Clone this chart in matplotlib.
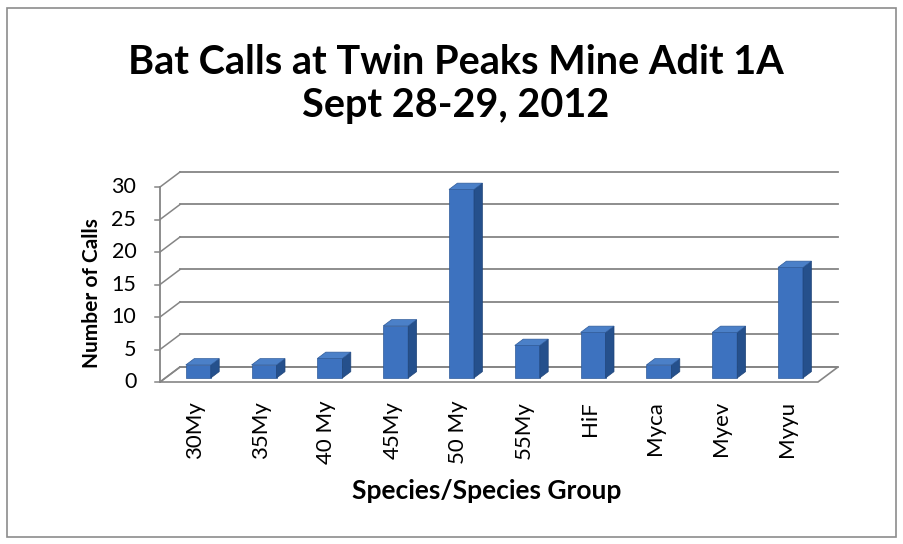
import matplotlib.pyplot as plt
from matplotlib.patches import Polygon, Rectangle

species = ["30My", "35My", "40 My", "45My", "50 My", "55My", "HiF", "Myca", "Myev", "Myyu"]
calls = [2, 2, 3, 8, 29, 5, 7, 2, 7, 17]
yticks = [0, 5, 10, 15, 20, 25, 30]

plt.rcParams['font.family'] = ['Lato', 'DejaVu Sans']

fig = plt.figure(figsize=(9.04, 5.44), dpi=100)
ax = fig.add_axes([160/904, 162/544, 678/904, 210/544])

# depth of the fake 3d box, in data units
dx, dy = 0.304, 2.31
ax.set_xlim(-0.5, 9.5 + dx)
ax.set_ylim(0, 30 + dy)
ax.axis('off')

grid = '#858585'
n = len(species)

# back wall grid + left wall diagonals + ticks
for v in yticks:
    ax.plot([-0.5 + dx, n - 0.5 + dx], [v + dy, v + dy], color=grid, lw=1.3, zorder=1, clip_on=False)
    ax.plot([-0.5, -0.5 + dx], [v, v + dy], color=grid, lw=1.1, zorder=1, clip_on=False)
    ax.plot([-0.58, -0.5], [v, v], color=grid, lw=1.1, zorder=1, clip_on=False)
    ax.text(-0.86, v, str(v), ha='right', va='center', fontsize=15.5, clip_on=False)
ax.plot([-0.5, -0.5], [0, 30], color=grid, lw=1.3, zorder=1, clip_on=False)

# floor
ax.add_patch(Polygon([(-0.5, 0), (n - 0.5, 0), (n - 0.5 + dx, dy), (-0.5 + dx, dy)],
                     closed=True, fc='white', ec=grid, lw=1.2, zorder=0.5, clip_on=False))

# bars
w = 0.38
f0 = 0.27   # where the bar's front face sits in the depth
bd = 0.42   # bar depth as fraction of box depth
xs = [i + f0 * dx for i in range(n)]
bars = ax.bar(xs, calls, width=w, bottom=f0 * dy, color='#3d72bf', edgecolor='#2d5a9a',
              lw=0.5, zorder=3, clip_on=False)
for b, v in zip(bars, calls):
    x0 = b.get_x()
    y0 = b.get_y()
    side = [(x0 + w, y0), (x0 + w + bd * dx, y0 + bd * dy),
            (x0 + w + bd * dx, y0 + v + bd * dy), (x0 + w, y0 + v)]
    top = [(x0, y0 + v), (x0 + w, y0 + v),
           (x0 + w + bd * dx, y0 + v + bd * dy), (x0 + bd * dx, y0 + v + bd * dy)]
    ax.add_patch(Polygon(side, closed=True, fc='#25508c', ec='#1f4478', lw=0.5, zorder=3, clip_on=False))
    ax.add_patch(Polygon(top, closed=True, fc='#4b80c8', ec='#2d5a9a', lw=0.5, zorder=3, clip_on=False))

# category labels
for i, s in enumerate(species):
    ax.text(i + 0.03, -2.9, s, rotation=90, ha='center', va='top', fontsize=16, clip_on=False)

fig.text(0.504, 1 - 62/544, "Bat Calls at Twin Peaks Mine Adit 1A", ha='center', va='center',
         fontsize=28.5, weight='bold')
fig.text(0.504, 1 - 106/544, "Sept 28-29, 2012", ha='center', va='center', fontsize=28.5, weight='bold')
fig.text(92/904, 1 - 293/544, "Number of Calls", rotation=90, ha='center', va='center',
         fontsize=15, weight='bold')
fig.text(487/904, 1 - 491/544, "Species/Species Group", ha='center', va='center',
         fontsize=19, weight='bold')

fig.patches.append(Rectangle((7/904, 7/544), 889/904, 529/544, transform=fig.transFigure,
                             fill=False, ec='#8c8c8c', lw=1.2))

fig.savefig('out.png', dpi=100)
